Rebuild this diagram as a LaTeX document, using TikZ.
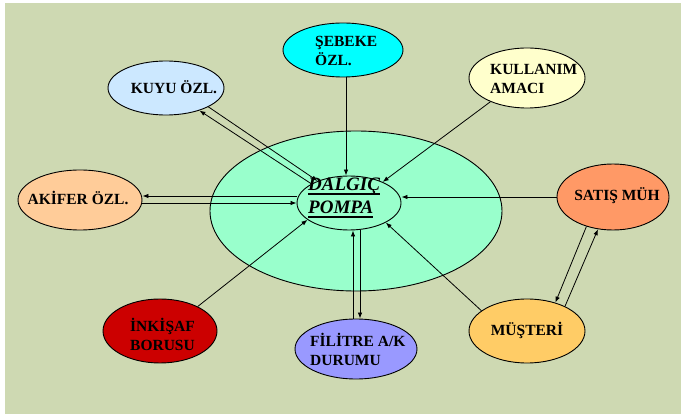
\documentclass[tikz,border=0pt]{standalone}
\usepackage{fontspec}
\setmainfont{Liberation Serif}
\usetikzlibrary{shapes.geometric,arrows.meta}
\definecolor{bgc}{RGB}{206,217,178}
\definecolor{bigc}{RGB}{153,255,204}
\definecolor{sebc}{RGB}{0,255,255}
\definecolor{kuyuc}{RGB}{204,232,255}
\definecolor{kulc}{RGB}{255,255,204}
\definecolor{akic}{RGB}{255,204,153}
\definecolor{satc}{RGB}{255,153,102}
\definecolor{inkc}{RGB}{204,0,0}
\definecolor{filc}{RGB}{153,153,255}
\definecolor{musc}{RGB}{255,204,102}
\newcommand\myul[1]{\setbox0\hbox{#1}\rlap{\rule[-4pt]{\wd0}{1.6pt}}\box0}
\tikzset{
  ell/.style={ellipse, draw=black, line width=0.9pt, inner sep=0pt},
  lbl/.style={inner sep=0pt, align=left, font=\bfseries\fontsize{15.5}{19}\selectfont},
  arr/.style={draw=black, line width=0.8pt, -{Latex[length=6pt,width=4.5pt]}},
  ln/.style={draw=black, line width=0.8pt}
}
\begin{document}
\begin{tikzpicture}[x=1pt,y=-1pt]
\useasboundingbox (0,0) rectangle (681,414);
\fill[white] (0,0) rectangle (681,414);
\fill[bgc] (5,3) rectangle (681,414);
% central ellipses
\node[ell, fill=bigc, minimum width=292pt, minimum height=160pt] (big) at (356,211) {};
% satellites
\node[ell, fill=sebc, minimum width=120pt, minimum height=54pt] (seb) at (343,50) {};
\node[ell, fill=kuyuc, minimum width=116pt, minimum height=54pt] (kuyu) at (166,88) {};
\node[ell, fill=kulc, minimum width=116pt, minimum height=60pt] (kul) at (527,78) {};
\node[ell, fill=akic, minimum width=124pt, minimum height=60pt] (aki) at (80,200) {};
\node[ell, fill=satc, minimum width=112pt, minimum height=66pt] (sat) at (613,197) {};
\node[ell, fill=inkc, minimum width=114pt, minimum height=64pt] (ink) at (160,331) {};
\node[ell, fill=filc, minimum width=122pt, minimum height=60pt] (fil) at (356,349) {};
\node[ell, fill=musc, minimum width=116pt, minimum height=64pt] (mus) at (527,331) {};
\node[ell, minimum width=104pt, minimum height=54pt] (small) at (349,203) {};
% connectors
\draw[arr] ([xshift=3pt]seb.south) -- ([xshift=-3pt]small.north);
\draw[arr] (kul.213) -- (small.32);
\draw[arr] (mus.156) -- (small.-28);
\draw[arr] (ink.33) -- (small.202);
\draw[arr] (sat.west) -- (sat.west -| small.east);
\draw[arr] ([yshift=7pt]small.west) -- ([yshift=4pt]aki.east);
\draw[arr] (aki.east |- small.west) -- (small.west);
\draw[arr] (small.153) -- (kuyu.-34.5);
\draw[arr] (kuyu.-24.4) -- (small.145);
\draw[arr] (sat.228) -- (mus.45);
\draw[arr] (mus.33) -- (sat.245.6);
\draw[arr] ([xshift=-3pt]fil.north) -- ([xshift=4pt]small.south);
\draw[arr] ([xshift=11pt]small.south) -- ([xshift=4pt]fil.north);
% texts
\node[lbl, anchor=west] (seb-t) at (315,50.5) {ŞEBEKE\\ÖZL.};
\node[lbl] (kuyu-t) at (174,87) {KUYU ÖZL.};
\node[lbl, anchor=west] (kul-t) at (490,79) {KULLANIM\\AMACI};
\node[lbl] (aki-t) at (78,198) {AKİFER ÖZL.};
\node[lbl] (sat-t) at (617,196) {SATIŞ MÜH};
\node[lbl, anchor=west] (ink-t) at (130,334) {İNKİŞAF\\BORUSU};
\node[lbl, anchor=west] (fil-t) at (310,349.5) {FİLİTRE A/K\\DURUMU};
\node[lbl] (mus-t) at (527,330) {MÜŞTERİ};
\node[inner sep=0pt, align=left, anchor=west, font=\bfseries\itshape\fontsize{19}{23}\selectfont] (pompa-t) at (308,198) {\myul{DALGIÇ}\\\myul{POMPA}};
\end{tikzpicture}
\end{document}
